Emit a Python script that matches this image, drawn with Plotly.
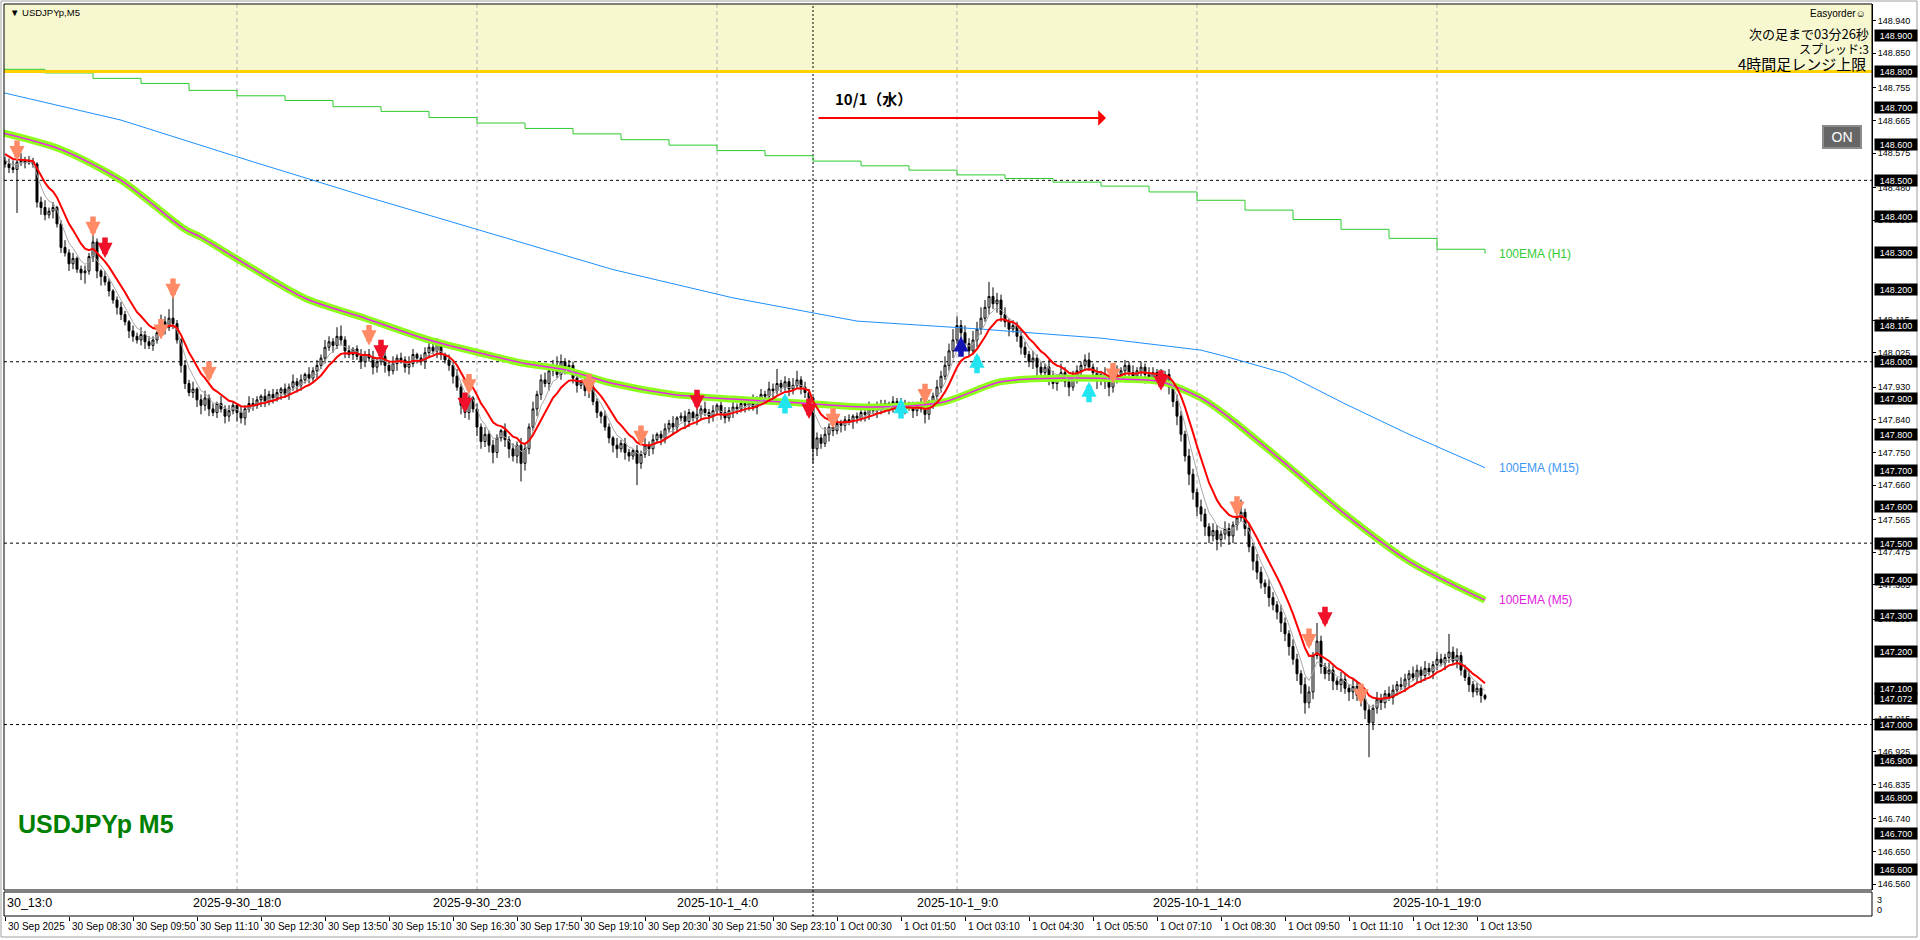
import plotly.graph_objects as go

# ---------------- data (prices as points above 147.000; 1 point = 0.001) ----------------
first_open = 1555
closes = [
    1545, 1535, 1530, 1550, 1555, 1548, 1552, 1545, 1440, 1425,
    1405, 1415, 1425, 1380, 1315, 1300, 1270, 1285, 1255, 1245,
    1250, 1290, 1330, 1250, 1235, 1220, 1195, 1170, 1150, 1130,
    1110, 1085, 1070, 1060, 1075, 1055, 1045, 1060, 1080, 1110,
    1095, 1120, 1105, 1060, 990, 940, 915, 925, 895, 880,
    900, 870, 860, 885, 870, 850, 865, 880, 860, 845,
    870, 885, 880, 895, 905, 890, 910, 900, 915, 925,
    910, 930, 945, 935, 950, 965, 955, 975, 990, 1010,
    1040, 1055, 1045, 1070, 1060, 1030, 1020, 1035, 1015, 1000,
    1020, 1010, 985, 1000, 1015, 990, 975, 995, 1010, 1005,
    985, 995, 1020, 1010, 1000, 1025, 1040, 1030, 1050, 1020,
    1005, 990, 960, 930, 880, 860, 900, 870, 820, 780,
    800, 770, 750, 790, 810, 785, 760, 740, 770, 720,
    760, 820, 870, 910, 950, 940, 975, 990, 965, 1000,
    985, 990, 955, 935, 945, 920, 930, 890, 860, 850,
    820, 790, 770, 760, 775, 750, 740, 755, 720, 745,
    770, 760, 785, 800, 790, 815, 830, 820, 845, 850,
    835, 860, 845, 855, 870, 860, 850, 865, 880, 860,
    845, 865, 875, 870, 885, 880, 890, 875, 895, 910,
    905, 925, 920, 940, 930, 945, 925, 935, 950, 930,
    915, 900, 760, 790, 775, 800, 820, 810, 830, 825,
    840, 835, 850, 845, 860, 855, 870, 865, 880, 870,
    885, 875, 890, 880, 870, 885, 875, 865, 880, 870,
    855, 880, 905, 930, 960, 990, 1030, 1060, 1100, 1080,
    1050, 1030, 1060, 1090, 1120, 1150, 1180, 1160, 1170, 1130,
    1110, 1090, 1100, 1070, 1040, 1020, 1000, 1010, 985, 970,
    985, 960, 940, 955, 970, 945, 930, 955, 975, 990,
    1005, 985, 970, 950, 965, 945, 930, 950, 965, 975,
    990, 970, 960, 975, 985, 965, 955, 970, 960, 950,
    965, 930, 890, 850, 800, 740, 690, 640, 600, 580,
    545, 520, 535, 510, 525, 540, 520, 550, 570, 585,
    540, 490, 450, 420, 390, 380, 350, 330, 310, 280,
    250, 215, 180, 140, 110, 60, 90, 190, 230, 160,
    140, 150, 120, 110, 125, 100, 90, 105, 80, 70,
    40, 5, 45, 70, 60, 85, 75, 95, 110, 105,
    125, 140, 130, 150, 135, 155, 145, 165, 180, 170,
    185, 200, 175, 190, 150, 130, 110, 90, 100, 80,
    72,
]
upper_wick = [
    10, 15, 20, 25, 20, 10, 15, 10, 5, 15,
    20, 10, 15, 5, 10, 20, 10, 15, 5, 10,
    15, 10, 20, 10, 5, 15, 10, 5, 10, 15,
    10, 5, 15, 10, 20, 10, 15, 10, 5, 20,
    15, 25, 70, 10, 5, 15, 10, 20, 5, 15,
    20, 10, 15, 5, 20, 10, 15, 10, 5, 15,
    10, 20, 15, 10, 5, 20, 10, 15, 10, 5,
    15, 10, 20, 10, 15, 5, 20, 10, 15, 10,
    20, 15, 10, 25, 30, 10, 15, 5, 10, 20,
    10, 15, 20, 10, 5, 15, 10, 20, 10, 15,
    10, 20, 15, 5, 10, 15, 20, 10, 15, 10,
    5, 15, 10, 20, 10, 15, 10, 5, 15, 10,
    20, 10, 15, 10, 5, 20, 10, 15, 10, 20,
    15, 10, 20, 10, 15, 20, 10, 15, 25, 20,
    10, 15, 10, 20, 5, 15, 10, 20, 10, 5,
    15, 10, 5, 20, 10, 15, 10, 5, 15, 10,
    20, 10, 15, 5, 10, 15, 10, 20, 5, 10,
    15, 10, 5, 15, 10, 20, 10, 15, 5, 10,
    15, 10, 20, 10, 5, 15, 10, 20, 10, 15,
    10, 20, 15, 40, 10, 15, 10, 20, 25, 10,
    15, 10, 5, 15, 10, 20, 10, 5, 15, 10,
    10, 15, 5, 10, 15, 10, 20, 5, 10, 15,
    10, 5, 15, 10, 20, 10, 5, 15, 10, 20,
    10, 15, 10, 20, 15, 25, 20, 30, 25, 15,
    20, 15, 25, 20, 30, 20, 40, 25, 20, 15,
    20, 10, 15, 10, 20, 15, 10, 20, 10, 15,
    10, 20, 15, 10, 25, 15, 10, 20, 15, 10,
    15, 20, 10, 15, 10, 20, 15, 10, 25, 10,
    15, 10, 20, 10, 15, 10, 20, 15, 10, 20,
    10, 15, 10, 20, 15, 10, 20, 15, 10, 20,
    15, 10, 20, 15, 10, 20, 15, 10, 20, 35,
    10, 15, 10, 20, 15, 10, 20, 15, 10, 20,
    15, 10, 20, 15, 10, 20, 15, 10, 50, 15,
    10, 20, 15, 10, 20, 15, 10, 20, 15, 10,
    20, 15, 10, 20, 15, 10, 20, 15, 10, 20,
    15, 10, 20, 15, 10, 20, 15, 10, 20, 15,
    10, 50, 15, 20, 10, 15, 20, 10, 15, 10,
    5,
]
lower_wick = [
    10, 15, 10, 120, 10, 15, 5, 10, 15, 20,
    15, 10, 20, 10, 15, 10, 20, 15, 10, 20,
    30, 10, 15, 20, 25, 10, 15, 10, 20, 15,
    10, 20, 15, 10, 15, 20, 10, 15, 10, 15,
    20, 10, 15, 10, 20, 15, 10, 15, 20, 25,
    15, 20, 10, 15, 10, 20, 15, 10, 25, 15,
    20, 10, 15, 10, 20, 15, 10, 15, 10, 20,
    10, 15, 10, 20, 15, 10, 15, 10, 20, 10,
    15, 10, 20, 10, 15, 20, 10, 15, 10, 20,
    15, 10, 20, 15, 10, 20, 15, 10, 20, 10,
    15, 20, 10, 15, 10, 20, 15, 10, 20, 15,
    10, 15, 20, 10, 25, 15, 20, 10, 25, 20,
    15, 20, 30, 15, 10, 20, 25, 15, 20, 50,
    20, 15, 10, 20, 15, 10, 20, 15, 10, 15,
    20, 10, 15, 20, 10, 15, 20, 10, 15, 20,
    10, 15, 20, 25, 10, 20, 15, 10, 60, 15,
    10, 20, 15, 10, 20, 15, 10, 20, 15, 10,
    20, 15, 10, 20, 15, 10, 20, 15, 10, 20,
    15, 10, 20, 15, 10, 20, 15, 10, 20, 15,
    10, 15, 20, 10, 15, 10, 20, 15, 10, 20,
    15, 10, 40, 20, 15, 10, 20, 15, 10, 20,
    15, 10, 20, 15, 10, 20, 15, 10, 20, 15,
    10, 20, 15, 10, 20, 15, 10, 20, 15, 10,
    25, 15, 10, 20, 15, 10, 15, 20, 10, 25,
    20, 15, 10, 20, 15, 10, 20, 15, 25, 20,
    15, 20, 10, 15, 20, 10, 15, 20, 25, 10,
    20, 25, 15, 20, 10, 15, 25, 10, 15, 20,
    15, 10, 20, 25, 15, 20, 25, 15, 10, 20,
    15, 20, 10, 15, 20, 25, 10, 15, 20, 15,
    10, 20, 15, 25, 20, 15, 30, 20, 25, 20,
    25, 20, 15, 30, 20, 15, 25, 20, 15, 10,
    20, 15, 25, 20, 15, 20, 25, 15, 20, 25,
    20, 25, 15, 20, 25, 30, 15, 20, 10, 20,
    15, 20, 25, 15, 20, 15, 25, 20, 15, 20,
    25, 95, 20, 15, 20, 15, 10, 20, 15, 10,
    15, 20, 10, 15, 20, 15, 10, 20, 15, 10,
    20, 15, 10, 20, 15, 10, 20, 15, 10, 20,
    5,
]

# 100EMA (H1): one value per hour, hour k starts at bar 12*k - 2
h1_ema = [148.806, 148.796, 148.781, 148.767, 148.748, 148.733, 148.720, 148.703,
          148.690, 148.673, 148.658, 148.643, 148.628, 148.612, 148.597, 148.582,
          148.568, 148.553, 148.540, 148.528, 148.515, 148.505, 148.495, 148.484,
          148.468, 148.445, 148.418, 148.392, 148.365, 148.340, 148.310, 148.298]
# 100EMA (M15) read points
m15_bars = [-1, 29, 60, 90, 121, 152, 182, 213, 244, 274, 299, 305, 320, 335, 351, 370]
m15_vals = [148.743, 148.666, 148.558, 148.456, 148.355, 148.254, 148.176, 148.112,
            148.090, 148.065, 148.032, 148.015, 147.968, 147.884, 147.800, 147.708]
# 100EMA (M5) read points
m5_bars = [-1, 14, 29, 45, 49, 60, 75, 90, 106, 121, 130, 140, 152, 167, 182, 198,
           213, 224, 235, 249, 265, 280, 289, 299, 305, 320, 335, 351, 370]
m5_vals = [148.632, 148.585, 148.500, 148.365, 148.343, 148.270, 148.175, 148.120,
           148.060, 148.018, 147.995, 147.978, 147.940, 147.910, 147.897, 147.887,
           147.876, 147.877, 147.890, 147.945, 147.955, 147.952, 147.945, 147.900,
           147.855, 147.720, 147.580, 147.450, 147.343]

# signal arrows (bar, tip price)
sell_light_bars = [3, 22, 39, 42, 51, 91, 116, 146, 159, 207, 230, 277, 308, 326, 339]
sell_light_tips = [148.553, 148.344, 148.061, 148.173, 147.944, 148.045, 147.910, 147.910,
                   147.768, 147.815, 147.883, 147.940, 147.573, 147.208, 147.056]
sell_red_bars = [25, 94, 115, 173, 201, 289, 330]
sell_red_tips = [148.286, 148.004, 147.859, 147.866, 147.842, 147.920, 147.268]
buy_cyan_bars = [195, 224, 243, 271]
buy_cyan_tips = [147.914, 147.900, 148.025, 147.945]
buy_blue_bars = [239]
buy_blue_tips = [148.070]

# axis texts
price_tick_labels = ["146.560", "146.650", "146.740", "146.835", "146.925", "147.015",
                     "147.290", "147.385", "147.475", "147.565",
                     "147.660", "147.750", "147.840", "147.930", "148.025", "148.115",
                     "148.390", "148.480", "148.575", "148.665",
                     "148.755", "148.850", "148.940"]
level_labels = ["148.900", "148.800", "148.700", "148.600", "148.500", "148.400", "148.300",
                "148.200", "148.100", "148.000", "147.900", "147.800", "147.700", "147.600",
                "147.500", "147.400", "147.300", "147.200", "147.100", "147.072", "147.000",
                "146.900", "146.800", "146.700", "146.600"]
time_labels = ["30 Sep 2025", "30 Sep 08:30", "30 Sep 09:50", "30 Sep 11:10", "30 Sep 12:30",
               "30 Sep 13:50", "30 Sep 15:10", "30 Sep 16:30", "30 Sep 17:50", "30 Sep 19:10",
               "30 Sep 20:30", "30 Sep 21:50", "30 Sep 23:10", "1 Oct 00:30", "1 Oct 01:50",
               "1 Oct 03:10", "1 Oct 04:30", "1 Oct 05:50", "1 Oct 07:10", "1 Oct 08:30",
               "1 Oct 09:50", "1 Oct 11:10", "1 Oct 12:30", "1 Oct 13:50"]
jst_labels = ["30_13:0", "2025-9-30_18:0", "2025-9-30_23:0", "2025-10-1_4:0",
              "2025-10-1_9:0", "2025-10-1_14:0", "2025-10-1_19:0"]
dashed_levels = [148.5, 148.0, 147.5, 147.0]
range_top_level = 148.8

# ---------------- derived ----------------
n = len(closes)
bars = list(range(n))
P = lambda v: 147.0 + v / 1000.0
opens = [first_open] + closes[:-1]
o_p = [P(v) for v in opens]
c_p = [P(v) for v in closes]
h_p = [P(max(o, c) + u) for o, c, u in zip(opens, closes, upper_wick)]
l_p = [P(min(o, c) - w) for o, c, w in zip(opens, closes, lower_wick)]


def ema(vals, period, seed):
    a = 2.0 / (period + 1)
    e = seed
    out = []
    for v in vals:
        e += a * (v - e)
        out.append(e)
    return out


red_ma = ema(c_p, 10, 148.578)
gray_ma = ema(c_p, 5, 148.560)

# ---------------- layout geometry (pixels) ----------------
W, H = 1920, 940
L, R, T, B = 4, 48, 4, 24
PW, PH = W - L - R, H - T - B
X0, X1 = -0.25, 466.75
Y0, Y1 = 146.544, 148.986


def px(xp):
    return (xp - L) / PW


def py(yp):
    return (H - B - yp) / PH


main_bottom = py(890)
FONT = "Liberation Sans, Arial, sans-serif"
JP = "Noto Sans CJK JP, sans-serif"

fig = go.Figure()

# EMA lines
fig.add_trace(go.Scatter(x=[12 * k - 2 for k in range(len(h1_ema))], y=h1_ema, mode="lines",
                         line=dict(color="#2ECC2E", width=1, shape="hv"), hoverinfo="skip"))
fig.add_trace(go.Scatter(x=m15_bars, y=m15_vals, mode="lines",
                         line=dict(color="#1E90FF", width=1), hoverinfo="skip"))
fig.add_trace(go.Scatter(x=m5_bars, y=m5_vals, mode="lines",
                         line=dict(color="#8CFF1A", width=7, shape="spline", smoothing=0.8),
                         hoverinfo="skip"))
fig.add_trace(go.Scatter(x=m5_bars, y=m5_vals, mode="lines",
                         line=dict(color="#EE22EE", width=1.5, shape="spline", smoothing=0.8),
                         hoverinfo="skip"))

# candles
fig.add_trace(go.Candlestick(
    x=bars, open=o_p, high=h_p, low=l_p, close=c_p,
    increasing=dict(line=dict(color="black", width=1), fillcolor="white"),
    decreasing=dict(line=dict(color="black", width=1), fillcolor="black"),
    whiskerwidth=0, hoverinfo="skip"))

fig.add_trace(go.Scatter(x=bars, y=gray_ma, mode="lines",
                         line=dict(color="#A8A8A8", width=1), hoverinfo="skip"))
fig.add_trace(go.Scatter(x=bars, y=red_ma, mode="lines",
                         line=dict(color="#FF0000", width=2), hoverinfo="skip"))

shapes = []
# yellow band above range top
shapes.append(dict(type="rect", xref="paper", yref="y", x0=0, x1=1, y0=range_top_level, y1=Y1,
                   fillcolor="#F8F8D0", line=dict(width=0), layer="below"))
# vertical grid lines
for b in [58, 118, 178, 238, 298, 358]:
    shapes.append(dict(type="line", xref="x", yref="paper", x0=b, x1=b, y0=main_bottom, y1=1,
                       line=dict(color="#B4B4B4", width=1, dash="4px,3px"), layer="below"))
# day separator
shapes.append(dict(type="line", xref="x", yref="paper", x0=202, x1=202, y0=0, y1=1,
                   line=dict(color="black", width=1, dash="2px,2px"), layer="below"))
for lv in dashed_levels:
    shapes.append(dict(type="line", xref="paper", yref="y", x0=0, x1=1, y0=lv, y1=lv,
                       line=dict(color="black", width=1, dash="3px,3px"), layer="below"))
shapes.append(dict(type="line", xref="paper", yref="y", x0=0, x1=1, y0=range_top_level,
                   y1=range_top_level, line=dict(color="#FFD200", width=3)))
# pane frames
shapes.append(dict(type="rect", xref="paper", yref="paper", x0=0, x1=1, y0=main_bottom, y1=1,
                   line=dict(color="black", width=1)))
shapes.append(dict(type="rect", xref="paper", yref="paper", x0=0, x1=1, y0=0, y1=py(892),
                   line=dict(color="black", width=1)))
# outer window frame
shapes.append(dict(type="rect", xref="paper", yref="paper", x0=px(1), x1=px(1917), y0=py(937),
                   y1=py(1), line=dict(color="#A0A0A0", width=1)))

ann = []


def text_ann(x, y, text, size, color="black", family=FONT, xanchor="left", xref="paper",
             yref="paper", **kw):
    d = dict(xref=xref, yref=yref, x=x, y=y, text=text, showarrow=False, xanchor=xanchor,
             yanchor="middle", font=dict(size=size, family=family, color=color))
    d.update(kw)
    ann.append(d)


# price level labels (black boxes)
for t in level_labels:
    text_ann(1, float(t), t, 9, color="white", yref="y", xshift=2, bgcolor="black",
             width=40, height=9, borderpad=1)
# sub window scale
text_ann(1, py(900), "3", 9, xshift=3)
text_ann(1, py(910), "0", 9, xshift=3)
# time axis labels
for k, t in enumerate(time_labels):
    text_ann(16 * k, py(927), t, 10, xref="x", xshift=1)
# JST labels in sub window
for k, t in enumerate(jst_labels):
    if k == 0:
        text_ann(0, py(903), t, 12.5, xshift=1)
    else:
        text_ann(60 * k - 2, py(903), t, 12.5, xref="x", xanchor="center")


# arrows
def add_arrows(bs, tips, color, down):
    for b, p in zip(bs, tips):
        ann.append(dict(xref="x", yref="y", x=b, y=p, text="", showarrow=True, arrowhead=2,
                        arrowsize=0.55, arrowwidth=5.5, arrowcolor=color, ax=0,
                        ay=-22 if down else 22, standoff=0))


add_arrows(sell_light_bars, sell_light_tips, "#FF8A65", True)
add_arrows(sell_red_bars, sell_red_tips, "#F0102A", True)
add_arrows(buy_cyan_bars, buy_cyan_tips, "#22E5F0", False)
add_arrows(buy_blue_bars, buy_blue_tips, "#1414B4", False)

# EMA labels
text_ann(373, h1_ema[-1], "100EMA (H1)", 12, color="#33CC33", xref="x", yref="y")
text_ann(373, m15_vals[-1], "100EMA (M15)", 12, color="#3D96F5", xref="x", yref="y")
text_ann(373, m5_vals[-1], "100EMA (M5)", 12, color="#E020E0", xref="x", yref="y")

# header texts
text_ann(px(8), py(12), "▼ USDJPYp,M5", 9.5)
text_ann(px(1868), py(14), "Easyorder☺", 10, xanchor="right")
text_ann(px(1871), py(33), "次の足まで03分26秒", 13, family=JP, xanchor="right")
text_ann(px(1871), py(49), "スプレッド:3", 12, family=JP, xanchor="right")
text_ann(px(1868), py(64), "4時間足レンジ上限", 15, family=JP, xanchor="right")
text_ann(px(1842), py(137), "ON", 14, color="white", xanchor="center", bgcolor="#666666",
         bordercolor="#8C8C8C", borderwidth=2, width=34, height=18)
text_ann(px(833), py(98), "<b>10/1（水）</b>", 15, family=JP)
ann.append(dict(xref="paper", yref="paper", x=px(1106), y=py(118), text="", showarrow=True,
                arrowhead=1, arrowsize=1.3, arrowwidth=2, arrowcolor="#FF0000", ax=-289, ay=0,
                standoff=0))
text_ann(px(16), py(824), "<b>USDJPYp M5</b>", 25, color="#008000")

fig.update_layout(
    width=W, height=H, autosize=False,
    margin=dict(l=L, r=R, t=T, b=B, pad=0),
    paper_bgcolor="white", plot_bgcolor="white",
    showlegend=False, shapes=shapes, annotations=ann, hovermode=False,
    xaxis=dict(range=[X0, X1], anchor="free", position=0, showgrid=False, zeroline=False,
               showline=False, ticks="outside", ticklen=4, tickcolor="black",
               tickvals=[16 * k for k in range(len(time_labels))], showticklabels=False,
               rangeslider=dict(visible=False), fixedrange=True),
    yaxis=dict(range=[Y0, Y1], domain=[main_bottom, 1], side="right", showgrid=False,
               zeroline=False, showline=True, linecolor="black", linewidth=1,
               ticks="outside", ticklen=3, tickcolor="black",
               tickvals=[float(t) for t in price_tick_labels], ticktext=price_tick_labels,
               tickfont=dict(size=9, family=FONT, color="black"), fixedrange=True),
)

fig.write_html("out.html", config={"displayModeBar": False},
               post_script="document.body.style.margin='0';document.body.style.overflow='hidden';")
